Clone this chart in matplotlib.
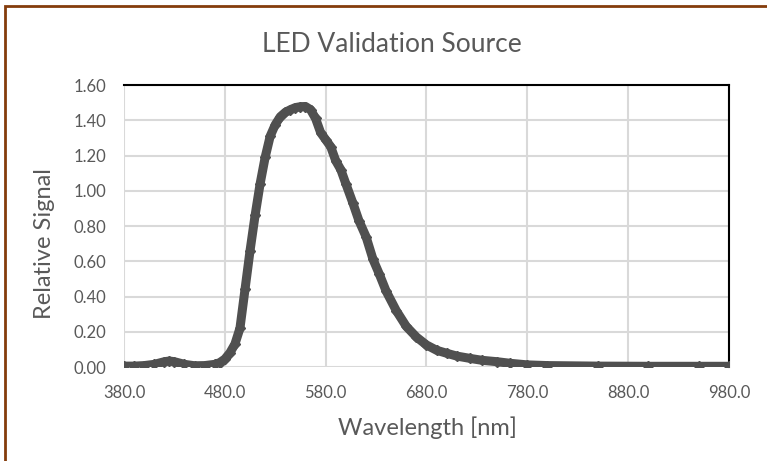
import matplotlib
matplotlib.use("Agg")
import matplotlib.pyplot as plt
from matplotlib.patches import Rectangle

wavelength = [380, 390, 400, 410, 420, 425, 430, 440, 450, 460, 470, 475, 480, 485, 490,
              495, 500, 505, 510, 515, 520, 525, 530, 535, 540, 545, 550, 555, 560, 565,
              570, 575, 580, 585, 590, 595, 600, 607, 613, 620, 627, 633, 640, 650, 660,
              670, 680, 690, 700, 710, 723, 735, 750, 763, 780, 800, 850, 900, 950, 980]
signal = [0.005, 0.005, 0.008, 0.015, 0.030, 0.034, 0.030, 0.015, 0.007, 0.008, 0.015, 0.025,
          0.045, 0.080, 0.130, 0.220, 0.440, 0.660, 0.860, 1.040, 1.190, 1.310, 1.375, 1.420,
          1.445, 1.460, 1.472, 1.477, 1.478, 1.460, 1.410, 1.330, 1.290, 1.250, 1.170, 1.120,
          1.040, 0.930, 0.830, 0.740, 0.610, 0.530, 0.430, 0.320, 0.230, 0.170, 0.125, 0.095,
          0.078, 0.062, 0.049, 0.038, 0.030, 0.021, 0.012, 0.008, 0.005, 0.004, 0.004, 0.004]

x_ticks = [380, 480, 580, 680, 780, 880, 980]
y_ticks = [0.0, 0.2, 0.4, 0.6, 0.8, 1.0, 1.2, 1.4, 1.6]

FONT = "Lato"
TXT = "#595959"
plt.rcParams["font.family"] = [FONT, "DejaVu Sans"]

W, H = 767, 461
fig = plt.figure(figsize=(7.67, 4.61), dpi=100)
fig.patch.set_facecolor("white")
ax = fig.add_axes([124/W, 1-367/H, (729-124)/W, (367-85)/H])

ax.plot(wavelength, signal, color="#505050", lw=6.5, solid_capstyle="round",
        solid_joinstyle="round", zorder=3)
ax.plot(wavelength, signal, ls="none", marker="D", ms=5, color="#505050", zorder=4)

ax.set_xlim(380, 980)
ax.set_ylim(0, 1.6)
ax.set_xticks(x_ticks)
ax.set_xticklabels([f"{v:.1f}" for v in x_ticks])
ax.set_yticks(y_ticks)
ax.set_yticklabels([f"{v:.2f}" for v in y_ticks])
ax.tick_params(length=0, labelsize=12, colors=TXT)
ax.tick_params(axis="x", pad=13)
ax.tick_params(axis="y", pad=13)
ax.grid(True, color="#d9d9d9", lw=1.5)
ax.set_axisbelow(True)
for s in ["left", "bottom"]:
    ax.spines[s].set_visible(False)
for s in ["top", "right"]:
    ax.spines[s].set_color("black")
    ax.spines[s].set_linewidth(1.5)

fig.text(427/W, 1-428/H, "Wavelength [nm]", fontsize=17, color=TXT,
         ha="center", va="center")
fig.text(45/W, 1-244/H, "Relative Signal", fontsize=17, color=TXT,
         ha="center", va="center", rotation=90)
fig.text(392/W, 1-45/H, "LED Validation Source", fontsize=19, color=TXT,
         ha="center", va="center")

fig.patches.append(Rectangle((5/W, -0.2), 1.5, 1.2 - 6/H, fill=False,
                             edgecolor="#843C0C", lw=2, transform=fig.transFigure))

fig.savefig("out.png", dpi=100)
